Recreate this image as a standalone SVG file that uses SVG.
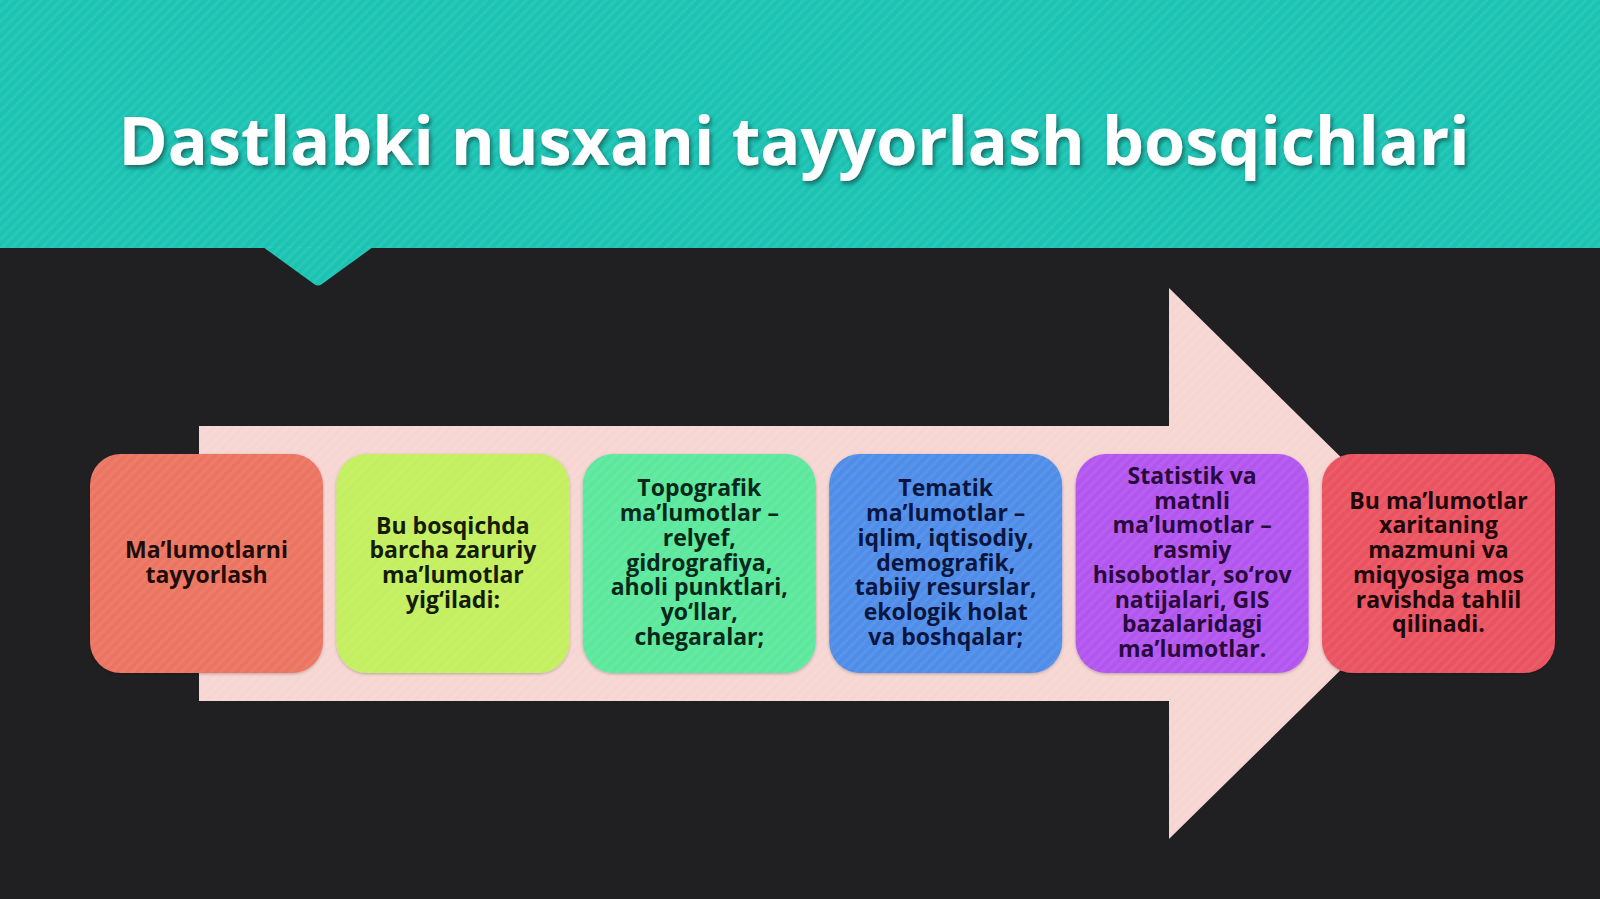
<svg xmlns="http://www.w3.org/2000/svg" width="1600" height="899" viewBox="0 0 1600 899">
  <defs>
    <pattern id="stripes" width="7" height="7" patternUnits="userSpaceOnUse" patternTransform="rotate(45)">
      <rect x="0" y="0" width="3" height="7" fill="#ffffff" fill-opacity="0.06"/>
    </pattern>
    <filter id="tshadow" x="-5%" y="-30%" width="110%" height="160%">
      <feDropShadow dx="2" dy="3" stdDeviation="2" flood-color="#0a4a44" flood-opacity="0.7"/>
    </filter>
    <filter id="bshadow" x="-10%" y="-10%" width="120%" height="120%">
      <feDropShadow dx="0" dy="1" stdDeviation="1.5" flood-color="#000000" flood-opacity="0.25"/>
    </filter>
  </defs>
  <style>
    .box { filter: url(#bshadow); }
    .lbl { font-family: "Open Sans", "Noto Sans", "DejaVu Sans", sans-serif; font-weight: 700; font-size: 23px; text-anchor: middle; }
    .title { font-family: "Open Sans", "Noto Sans", "DejaVu Sans", sans-serif; font-weight: 700; font-size: 66.5px; fill: #ffffff; text-anchor: middle; }
  </style>

  <!-- background -->
  <rect x="0" y="0" width="1600" height="899" fill="#201f22"/>

  <!-- header band -->
  <g id="header">
    <rect x="0" y="0" width="1600" height="248" fill="#1bc3b3"/>
    <path d="M263,247 L373,247 L322,284 Q318,287 314,284 Z" fill="#1bc3b3"/>
    <rect x="0" y="0" width="1600" height="248" fill="url(#stripes)"/>
    <path d="M263,247 L373,247 L322,284 Q318,287 314,284 Z" fill="url(#stripes)"/>
    <text class="title" x="794" y="165" filter="url(#tshadow)">Dastlabki nusxani tayyorlash bosqichlari</text>
  </g>

  <!-- big process arrow -->
  <g id="connectors">
    <path d="M199,426 L1169,426 L1169,288 L1449,563.5 L1169,839 L1169,701 L199,701 Z" fill="#f6d6d2"/>
    <path d="M199,426 L1169,426 L1169,288 L1449,563.5 L1169,839 L1169,701 L199,701 Z" fill="url(#stripes)"/>
  </g>

  <g id="node1">
    <rect class="box" x="90" y="454" width="233" height="219" rx="31" fill="#ec7462"/>
    <rect x="90" y="454" width="233" height="219" rx="31" fill="url(#stripes)"/>
    <text class="lbl" fill="#200c08"><tspan x="206.5" y="558">Ma’lumotlarni</tspan><tspan x="206.5" y="583">tayyorlash</tspan></text>
  </g>

  <g id="node2">
    <rect class="box" x="336.4" y="454" width="233" height="219" rx="31" fill="#c4ef5f"/>
    <rect x="336.4" y="454" width="233" height="219" rx="31" fill="url(#stripes)"/>
    <text class="lbl" fill="#141c05"><tspan x="452.9" y="533.5">Bu bosqichda</tspan><tspan x="452.9" y="558.2">barcha zaruriy</tspan><tspan x="452.9" y="582.9">ma’lumotlar</tspan><tspan x="452.9" y="607.6">yig‘iladi:</tspan></text>
  </g>

  <g id="node3">
    <rect class="box" x="582.8" y="454" width="233" height="219" rx="31" fill="#5be89d"/>
    <rect x="582.8" y="454" width="233" height="219" rx="31" fill="url(#stripes)"/>
    <text class="lbl" fill="#07281a"><tspan x="699.3" y="496.4">Topografik</tspan><tspan x="699.3" y="521.1">ma’lumotlar –</tspan><tspan x="699.3" y="545.8">relyef,</tspan><tspan x="699.3" y="570.5">gidrografiya,</tspan><tspan x="699.3" y="595.2">aholi punktlari,</tspan><tspan x="699.3" y="619.9">yo‘llar,</tspan><tspan x="699.3" y="644.6">chegaralar;</tspan></text>
  </g>

  <g id="node4">
    <rect class="box" x="829.2" y="454" width="233" height="219" rx="31" fill="#4f8de9"/>
    <rect x="829.2" y="454" width="233" height="219" rx="31" fill="url(#stripes)"/>
    <text class="lbl" fill="#0a1640"><tspan x="945.7" y="496.4">Tematik</tspan><tspan x="945.7" y="521.1">ma’lumotlar –</tspan><tspan x="945.7" y="545.8">iqlim, iqtisodiy,</tspan><tspan x="945.7" y="570.5">demografik,</tspan><tspan x="945.7" y="595.2">tabiiy resurslar,</tspan><tspan x="945.7" y="619.9">ekologik holat</tspan><tspan x="945.7" y="644.6">va boshqalar;</tspan></text>
  </g>

  <g id="node5">
    <rect class="box" x="1075.6" y="454" width="233" height="219" rx="31" fill="#b357ef"/>
    <rect x="1075.6" y="454" width="233" height="219" rx="31" fill="url(#stripes)"/>
    <text class="lbl" fill="#2a0a3c"><tspan x="1192.1" y="484">Statistik va</tspan><tspan x="1192.1" y="508.7">matnli</tspan><tspan x="1192.1" y="533.4">ma’lumotlar –</tspan><tspan x="1192.1" y="558.1">rasmiy</tspan><tspan x="1192.1" y="582.8">hisobotlar, so‘rov</tspan><tspan x="1192.1" y="607.5">natijalari, GIS</tspan><tspan x="1192.1" y="632.2">bazalaridagi</tspan><tspan x="1192.1" y="656.9">ma’lumotlar.</tspan></text>
  </g>

  <g id="node6">
    <rect class="box" x="1322" y="454" width="233" height="219" rx="31" fill="#ea5261"/>
    <rect x="1322" y="454" width="233" height="219" rx="31" fill="url(#stripes)"/>
    <text class="lbl" fill="#200709"><tspan x="1438.5" y="508.75">Bu ma’lumotlar</tspan><tspan x="1438.5" y="533.45">xaritaning</tspan><tspan x="1438.5" y="558.15">mazmuni va</tspan><tspan x="1438.5" y="582.85">miqyosiga mos</tspan><tspan x="1438.5" y="607.55">ravishda tahlil</tspan><tspan x="1438.5" y="632.25">qilinadi.</tspan></text>
  </g>
</svg>
